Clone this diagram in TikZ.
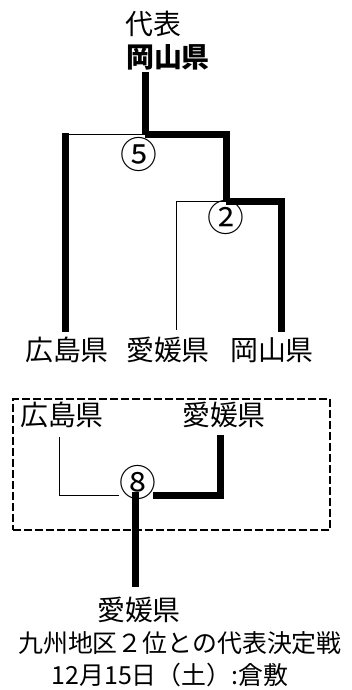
\documentclass[tikz,border=0pt]{standalone}
\usepackage{fontspec}
\setmainfont{Noto Sans CJK JP}
\tikzset{
    team/.style = {font=\fontsize{28}{28}\selectfont, inner sep=0pt},
    game-no/.style = {font=\fontsize{37}{37}\selectfont, inner sep=0pt},
    note/.style = {font=\fontsize{25}{25}\selectfont, inner sep=0pt},
    win-line/.style = {line width=7bp},
    lose-line/.style = {line width=1bp},
}

\begin{document}
\begin{tikzpicture}[x=1bp,y=-1bp]
\useasboundingbox (0,0) rectangle (351,690);
% upper bracket
\node[team] (rep-title) at (153,24) {代表};
\node[team, font=\fontsize{28}{28}\selectfont\bfseries] (rep) at (168,57) {岡山県};
\node[team] (hiroshima) at (67,350) {広島県};
\node[team] (ehime) at (168,350) {愛媛県};
\node[team] (okayama) at (272,350) {岡山県};
\node[game-no] (game5) at (139,154) {⑤};
\node[game-no] (game2) at (226,217) {②};
\coordinate (final) at (145,134);
\coordinate (semi) at (226,201);
\coordinate (hiro-end) at (65,332);
\coordinate (ehime-end) at (176,330);
\coordinate (oka-end) at (281,332);
\draw[win-line] (145,72) -- (final);
\draw[lose-line] (final) -- (hiro-end |- final) coordinate (hiro-top);
\draw[win-line] ([yshift=1bp]hiro-top) -- (hiro-end);
\draw[win-line] (final) -| (semi);
\draw[lose-line] (semi) -- (ehime-end |- semi) -- (ehime-end);
\draw[win-line] (semi) -| (oka-end);
% play-off
\node[draw, dash pattern=on 8bp off 3bp, line width=2.7bp, minimum width=317bp, minimum height=131bp] (box) at (171.5,464.5) {};
\node[team] (box-hiroshima) at (62,415) {広島県};
\node[team] (box-ehime) at (224,415) {愛媛県};
\node[game-no] (game8) at (138,482) {⑧};
\coordinate (playoff) at (135,495);
\draw[lose-line] (59,437) -- (59,495) -- (game8.west |- playoff);
\draw[win-line] (220,435) -- (220,495) -- ([xshift=-4bp]game8.east |- playoff);
\node[team] (winner) at (139,610) {愛媛県};
\draw[win-line] ([yshift=3bp]playoff) -- (playoff |- 0,587);
\node[note] (match) at (180,643) {九州地区２位との代表決定戦};
\node[note] (date) at (170,675) {12月15日（土）:倉敷};
\end{tikzpicture}
\end{document}
